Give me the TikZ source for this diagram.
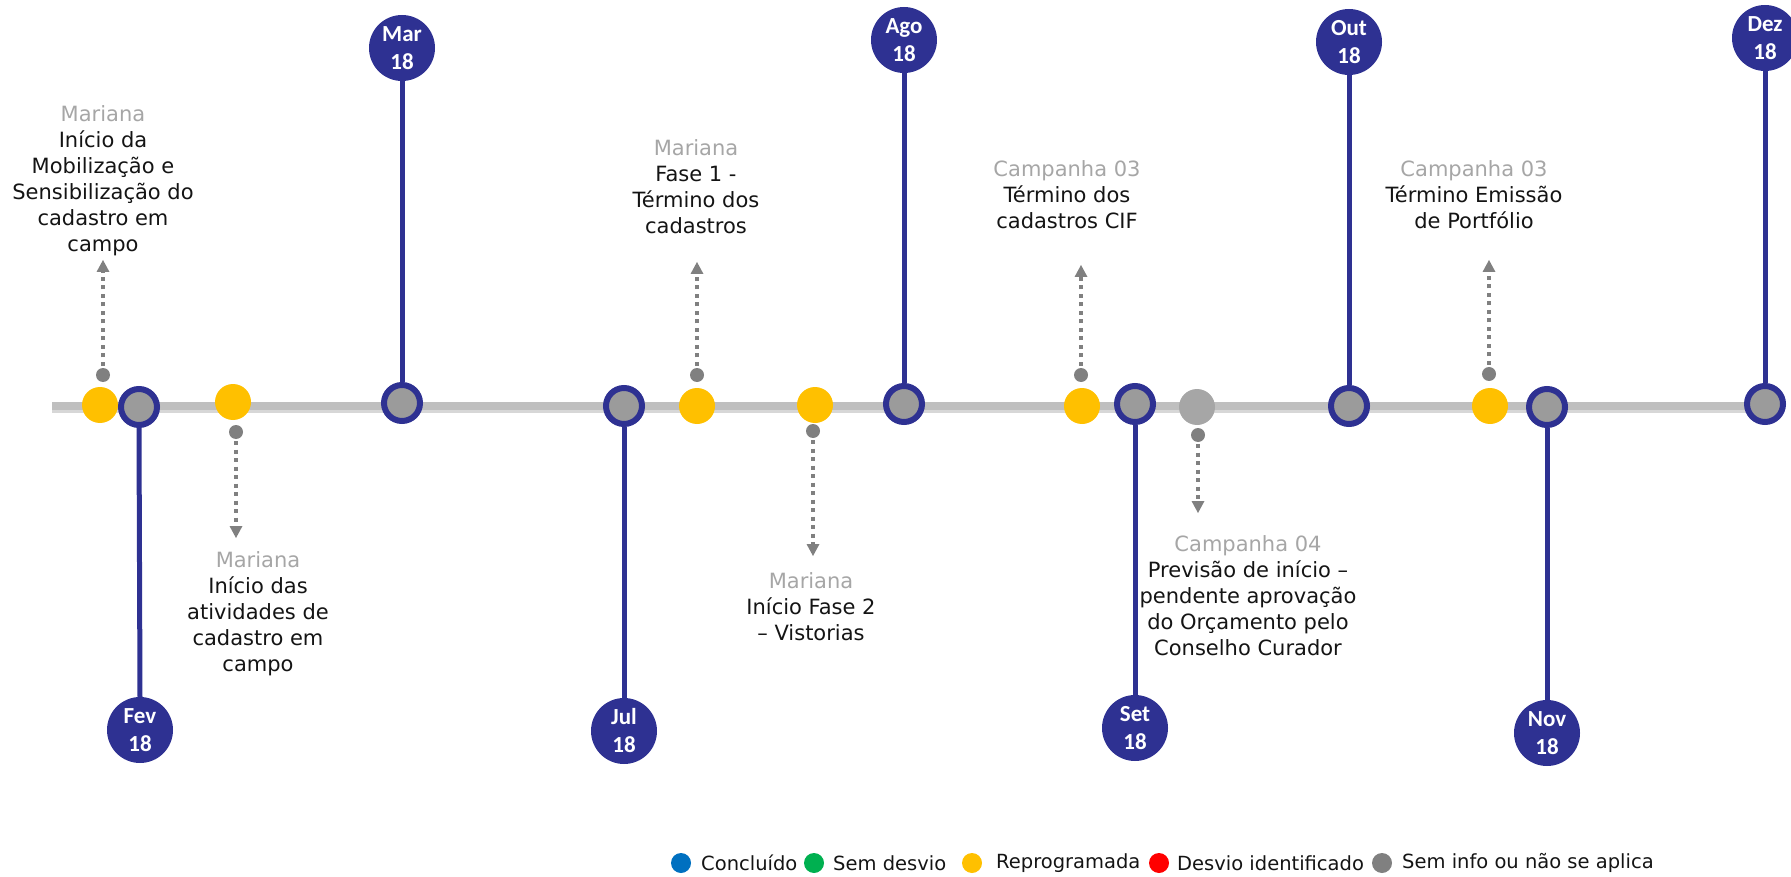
\documentclass[tikz,border=0pt]{standalone}
\usepackage{fontspec}
\setmainfont{DejaVu Sans}
\newfontfamily\datefont{Carlito}
\usetikzlibrary{arrows.meta}
\definecolor{navy}{RGB}{46,49,146}
\definecolor{tlgray}{RGB}{191,191,191}
\definecolor{tlshadow}{RGB}{215,215,215}
\definecolor{circgray}{RGB}{155,155,155}
\definecolor{lightc}{RGB}{166,166,166}
\definecolor{dotgray}{RGB}{128,128,128}
\definecolor{subgray}{RGB}{166,166,166}
\definecolor{yel}{RGB}{255,192,0}
\definecolor{lblue}{RGB}{0,112,192}
\definecolor{lgreen}{RGB}{0,176,80}
\definecolor{lred}{RGB}{255,0,0}
\definecolor{txt}{RGB}{20,20,20}
\tikzset{
  tlc/.style={circle, fill=circgray, draw=navy, line width=6pt, minimum size=36pt, inner sep=0pt},
  datec/.style={circle, fill=navy, minimum size=66pt, inner sep=0pt, text=white, align=center,
    font=\datefont\bfseries\fontsize{23pt}{28pt}\selectfont},
  ydot/.style={circle, fill=yel, minimum size=36pt, inner sep=0pt},
  sdot/.style={circle, fill=dotgray, minimum size=14pt, inner sep=0pt},
  stem/.style={draw=navy, line width=5pt},
  darr/.style={draw=dotgray, line width=4pt, dash pattern=on 4pt off 4.5pt,
    -{Triangle[width=13pt,length=12pt,line width=0pt]}, shorten <=2pt},
  lbl/.style={align=center, text=txt, inner sep=0pt, font=\fontsize{21pt}{26pt}\selectfont},
  legdot/.style={circle, minimum size=20pt, inner sep=0pt},
  legtxt/.style={anchor=west, inner sep=0pt, text=txt, font=\fontsize{19.5pt}{24pt}\selectfont},
}
\begin{document}
\begin{tikzpicture}[x=1pt,y=-1pt]
\useasboundingbox (0,0) rectangle (1791,877);
% timeline
\coordinate (tlL) at (52,406);
\coordinate (tlR) at (1782,406);
\draw[tlshadow, line width=9pt] ([yshift=-2pt]tlL) -- ([yshift=-2pt]tlR);
\draw[tlgray, line width=8pt] (tlL) -- (tlR);

% yellow dots
\node[ydot] (y1) at (100,405) {};
\node[ydot] (y2) at (233,402) {};
\node[ydot] (y3) at (697,406) {};
\node[ydot] (y4) at (815,405) {};
\node[ydot] (y5) at (1082,406) {};
\node[ydot] (y6) at (1490,406) {};
\node[circle, fill=lightc, minimum size=36pt, inner sep=0pt] (g1) at (1197,407) {};

% timeline month circles
\node[tlc] (fevT) at (139,407) {};
\node[tlc] (marT) at (402,403) {};
\node[tlc] (julT) at (624,406) {};
\node[tlc] (agoT) at (904,404) {};
\node[tlc] (setT) at (1135,404) {};
\node[tlc] (outT) at (1349,406) {};
\node[tlc] (novT) at (1547,407) {};
\node[tlc] (dezT) at (1765,404) {};

% date circles
\node[datec] (fev) at (140,730) {Fev\\18};
\node[datec] (mar) at (402,48) {Mar\\18};
\node[datec] (jul) at (624,731) {Jul\\18};
\node[datec] (ago) at (904,40) {Ago\\18};
\node[datec] (set) at (1135,728) {Set\\18};
\node[datec] (out) at (1349,42) {Out\\18};
\node[datec] (nov) at (1547,733) {Nov\\18};
\node[datec] (dez) at (1765,38) {Dez\\18};

% stems
\draw[stem] (fevT.south) -- (fev.north);
\draw[stem] (marT.north) -- (mar.south);
\draw[stem] (julT.south) -- (jul.north);
\draw[stem] (agoT.north) -- (ago.south);
\draw[stem] (setT.south) -- (set.north);
\draw[stem] (outT.north) -- (out.south);
\draw[stem] (novT.south) -- (nov.north);
\draw[stem] (dezT.north) -- (dez.south);

% small dots and dotted arrows
\node[sdot] (d1) at (103,375) {};
\coordinate (t1) at (103,260);
\draw[darr] (d1) -- (t1);
\node[sdot] (d2) at (236,432) {};
\coordinate (t2) at (236,538);
\draw[darr] (d2) -- (t2);
\node[sdot] (d3) at (697,375) {};
\coordinate (t3) at (697,262);
\draw[darr] (d3) -- (t3);
\node[sdot] (d4) at (813,431) {};
\coordinate (t4) at (813,556);
\draw[darr] (d4) -- (t4);
\node[sdot] (d5) at (1081,375) {};
\coordinate (t5) at (1081,265);
\draw[darr] (d5) -- (t5);
\node[sdot] (d6) at (1198,435) {};
\coordinate (t6) at (1198,513);
\draw[darr] (d6) -- (t6);
\node[sdot] (d7) at (1489,374) {};
\coordinate (t7) at (1489,260);
\draw[darr] (d7) -- (t7);

% labels
\node[lbl] (l1) at (103,181) {\textcolor{subgray}{Mariana}\\Início da\\Mobilização e\\Sensibilização do\\cadastro em\\campo};
\node[lbl] (l2) at (258,614) {\textcolor{subgray}{Mariana}\\Início das\\atividades de\\cadastro em\\campo};
\node[lbl] (l3) at (696,187) {\textcolor{subgray}{Mariana}\\Fase 1 -\\Término dos\\cadastros};
\node[lbl] (l4) at (811,607) {\textcolor{subgray}{Mariana}\\Início Fase 2\\– Vistorias};
\node[lbl] (l5) at (1067,195) {\textcolor{subgray}{Campanha 03}\\Término dos\\cadastros CIF};
\node[lbl] (l6) at (1248,596) {\textcolor{subgray}{Campanha 04}\\Previsão de início –\\pendente aprovação\\do Orçamento pelo\\Conselho Curador};
\node[lbl] (l7) at (1474,195) {\textcolor{subgray}{Campanha 03}\\Término Emissão\\de Portfólio};

% legend
\node[legdot, fill=lblue] (lg1) at (681,863) {};
\node[legtxt] (lt1) at (701,863) {Concluído};
\node[legdot, fill=lgreen] (lg2) at (814,863) {};
\node[legtxt] (lt2) at (833,863) {Sem desvio};
\node[legdot, fill=yel] (lg3) at (972,863) {};
\node[legtxt] (lt3) at (996,863) {Reprogramada};
\node[legdot, fill=lred] (lg4) at (1159,863) {};
\node[legtxt] (lt4) at (1177,863) {Desvio identificado};
\node[legdot, fill=dotgray] (lg5) at (1382,863) {};
\node[legtxt] (lt5) at (1402,863) {Sem info ou não se aplica};
\end{tikzpicture}
\end{document}
